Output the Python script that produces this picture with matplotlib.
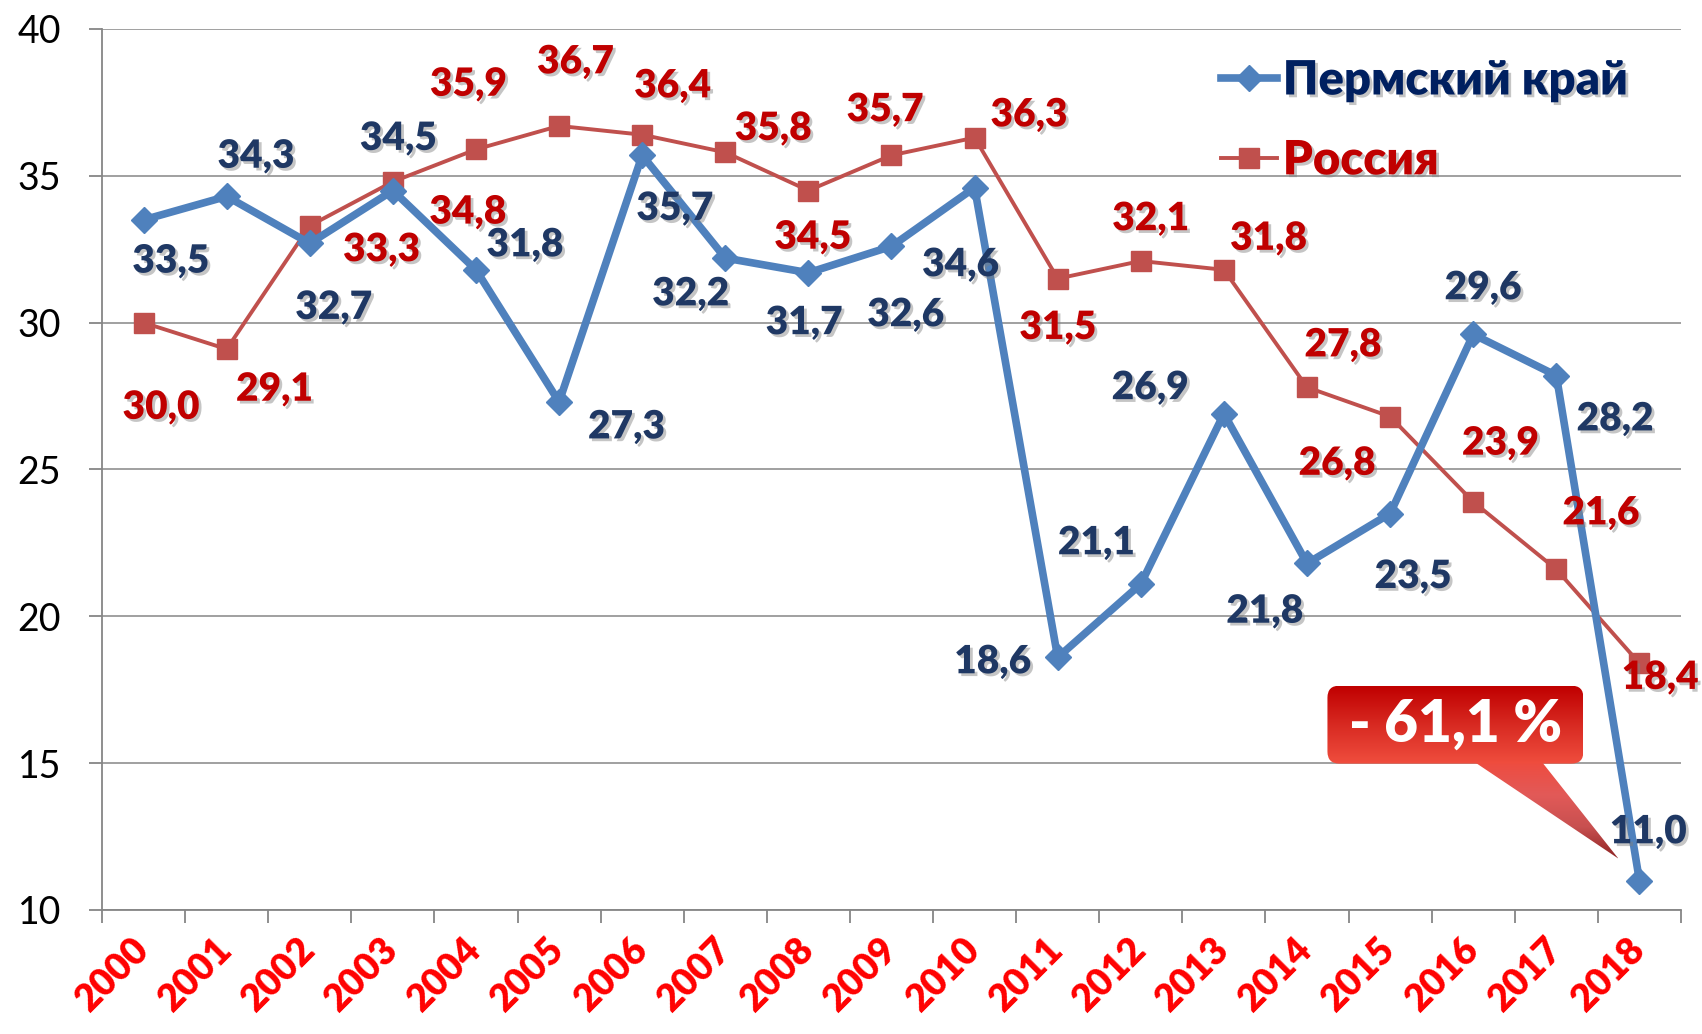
import numpy as np
import matplotlib
matplotlib.use("Agg")
import matplotlib.pyplot as plt
import matplotlib.patheffects as pe
from matplotlib.patches import FancyBboxPatch, Polygon
from matplotlib.colors import LinearSegmentedColormap
from matplotlib.lines import Line2D

years = [str(y) for y in range(2000, 2019)]
perm = [33.5, 34.3, 32.7, 34.5, 31.8, 27.3, 35.7, 32.2, 31.7, 32.6, 34.6,
        18.6, 21.1, 26.9, 21.8, 23.5, 29.6, 28.2, 11.0]
russia = [30.0, 29.1, 33.3, 34.8, 35.9, 36.7, 36.4, 35.8, 34.5, 35.7, 36.3,
          31.5, 32.1, 31.8, 27.8, 26.8, 23.9, 21.6, 18.4]
series_names = ["Пермский край", "Россия"]
callout_text = "- 61,1 %"

# label offsets (pixels, x right / y down as in picture)
perm_off = [(25, 38), (27, -37), (22, 59), (5, -48), (45, -23), (62, 23), (30, 49),
            (-32, 33), (-4, 46), (13, 63), (-13, 71), (-60, 4), (-41, -38), (-68, -24),
            (-39, 44), (21, 58), (9, -43), (54, 40), (8, -45)]
rus_off = [(16, 78), (44, 37), (66, 22), (69, 28), (-7, -60), (15, -59), (28, -45),
           (44, -22), (4, 43), (-6, -42), (50, -21), (0, 45), (9, -39), (41, -29),
           (33, -39), (-49, 43), (25, -54), (41, -52), (19, 13)]
SC = 1702 / 1568

W, H = 1702, 1034
fig = plt.figure(figsize=(W / 100, H / 100), dpi=100)
ax = fig.add_axes([102 / W, 1 - 910 / H, (1681 - 102) / W, (910 - 29) / H])

FONT = "Lato"
LW = "heavy"
BLUE = "#4F81BD"
RED = "#C0504D"
BLUE_TXT = "#1F3864"
RED_TXT = "#C00000"
GRAY = "#868686"
shadow = [pe.SimplePatchShadow(offset=(2, -2), shadow_rgbFace="#7f7f7f", alpha=0.45), pe.Normal()]

x = np.arange(len(years))
ax.plot(x, perm, color=BLUE, lw=5.5, marker="D", ms=13.5, zorder=4, solid_joinstyle="miter")
ax.plot(x, russia, color=RED, lw=2.8, marker="s", ms=14, zorder=3)

ax.set_xlim(-0.5, len(years) - 0.5)
ax.set_ylim(10, 40)
ax.set_yticks(np.arange(10, 41, 5))
ax.yaxis.grid(True, color=GRAY, lw=1.1)
ax.set_axisbelow(True)
for s in ["top", "right"]:
    ax.spines[s].set_visible(False)
for s in ["left", "bottom"]:
    ax.spines[s].set_color(GRAY)
    ax.spines[s].set_linewidth(1.3)
ax.set_xticks(x)
ax.set_xticks(np.arange(-0.5, len(years), 1), minor=True)
ax.tick_params(axis="x", which="major", length=0, pad=24)
ax.tick_params(axis="x", which="minor", length=9.5, color=GRAY, width=1.3)
ax.tick_params(axis="y", length=9.5, color=GRAY, width=1.3, pad=20, labelsize=27)
for t in ax.get_yticklabels():
    t.set_fontfamily(FONT)
ax.set_xticklabels(years, rotation=45, ha="right", va="center", rotation_mode="anchor",
                   fontsize=27, fontweight=LW, color="#FF0000", fontfamily=FONT)

for vals, offs, col in [(perm, perm_off, BLUE_TXT), (russia, rus_off, RED_TXT)]:
    for i, v in enumerate(vals):
        dx, dy = offs[i]
        ax.annotate(f"{v:.1f}".replace(".", ","), (i, v), xytext=(dx * SC, -dy * SC),
                    textcoords="offset pixels", ha="center", va="center", fontsize=28,
                    fontweight=LW, color=col, fontfamily=FONT, zorder=6,
                    path_effects=shadow)

handles = [Line2D([], [], color=BLUE, lw=5.5, marker="D", ms=13.5),
           Line2D([], [], color=RED, lw=2.8, marker="s", ms=14)]
leg = fig.legend(handles, series_names, loc="upper left", bbox_to_anchor=(1178 / W, 1 - 16 / H),
                 frameon=False, handlelength=1.19, handletextpad=0.13, labelspacing=0.76,
                 prop={"family": FONT, "weight": LW, "size": 34})
for t, c in zip(leg.get_texts(), ["#002060", RED_TXT]):
    t.set_color(c)
    t.set_path_effects(shadow)

# callout overlay in pixel coordinates
ov = fig.add_axes([0, 0, 1, 1], zorder=10)
ov.set_xlim(0, W)
ov.set_ylim(0, H)
ov.axis("off")
ov.patch.set_alpha(0)
px, py = ax.transData.transform((len(years) - 1, perm[-1]))
grad = np.linspace(0, 1, 256).reshape(-1, 1)

box = FancyBboxPatch((px - 312, py + 117), 256, 78, boxstyle="round,pad=0,rounding_size=12",
                     facecolor="none", edgecolor="none", transform=ov.transData)
ov.add_patch(box)
cm_box = LinearSegmentedColormap.from_list("b", ["#F04E3E", "#D82A22", "#C00000"])
im = ov.imshow(grad, cmap=cm_box, origin="lower", aspect="auto",
               extent=(px - 312, px - 56, py + 117, py + 195), zorder=2)
im.set_clip_path(box)

tri = Polygon([(px - 164, py + 118), (px - 97, py + 118), (px - 21, py + 22)], closed=True,
              facecolor="none", edgecolor="none", transform=ov.transData)
ov.add_patch(tri)
cm_tri = LinearSegmentedColormap.from_list("t", ["#8E2424", "#C85050", "#E25A58", "#EE4C40"])
im2 = ov.imshow(grad, cmap=cm_tri, origin="lower", aspect="auto",
                extent=(px - 164, px - 21, py + 22, py + 118), zorder=1)
im2.set_clip_path(tri)
ov.set_xlim(0, W)
ov.set_ylim(0, H)
ov.text(px - 184, py + 156, callout_text, ha="center", va="center", color="white",
        fontsize=42, fontweight=LW, fontfamily=FONT, zorder=3)

fig.savefig("out.png", dpi=100)
